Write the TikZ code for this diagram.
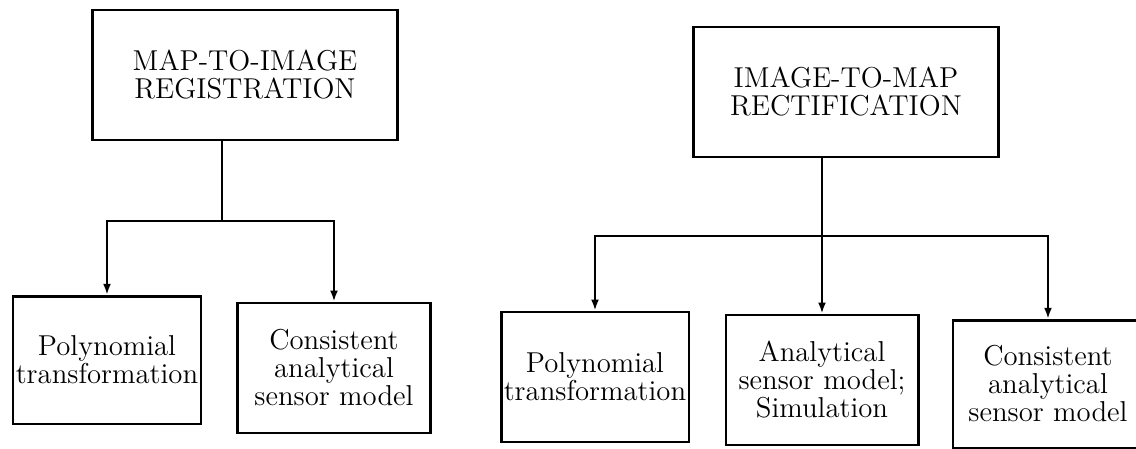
\documentclass[tikz,border=0pt]{standalone}
\usetikzlibrary{arrows.meta}

\begin{document}
\begin{tikzpicture}[x=0.4pt, y=-0.4pt,
                box/.style={draw, line width=1pt, align=center, inner sep=0pt,
                        font=\fontsize{11.5}{11.2}\selectfont},
                link/.style={line width=0.9pt},
                arr/.style={link, -{Latex[length=4.5pt, width=3.2pt]}}]
                \useasboundingbox (0,0) rectangle (1136,448);
                % top boxes
                \node[box, minimum width=122pt, minimum height=52pt] (reg) at (245,75) {MAP-TO-IMAGE\\REGISTRATION};
                \node[box, minimum width=122pt, minimum height=52pt] (rect) at (846,92) {IMAGE-TO-MAP\\RECTIFICATION};
                % bottom boxes, left group
                \node[box, minimum width=75pt, minimum height=51pt] (polyL) at (107,360) {Polynomial\\transformation};
                \node[box, minimum width=77pt, minimum height=52pt] (consL) at (334,368) {Consistent\\analytical\\sensor model};
                % bottom boxes, right group
                \node[box, minimum width=75pt, minimum height=52pt] (polyR) at (595,377) {Polynomial\\transformation};
                \node[box, minimum width=77pt, minimum height=52pt] (anal) at (822,380) {Analytical\\sensor model;\\Simulation};
                \node[box, minimum width=76pt, minimum height=51pt] (consR) at (1048,384) {Consistent\\analytical\\sensor model};
                % connectors, left
                \coordinate (splitL) at (222,221);
                \draw[link] (reg.south -| splitL) -- (splitL);
                \draw[arr] (splitL) -| (polyL);
                \draw[arr] (splitL) -| (consL);
                % connectors, right
                \coordinate (splitR) at (822,236);
                \draw[arr] (rect.south -| anal) -- (anal);
                \draw[arr] (splitR) -| (polyR);
                \draw[arr] (splitR) -| (consR);
            \end{tikzpicture}
\end{document}
